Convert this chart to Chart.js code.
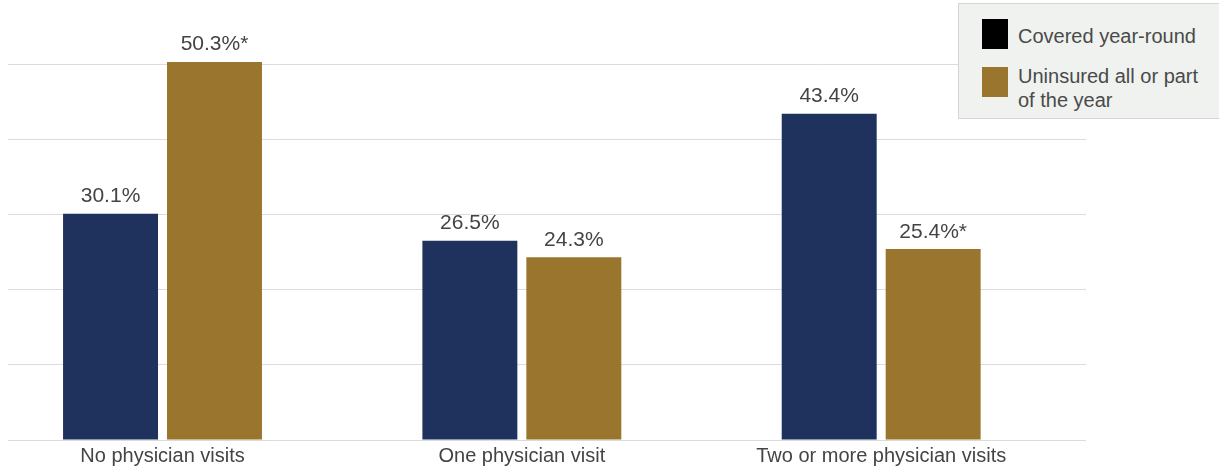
<!DOCTYPE html>
<html>
<head>
<meta charset="utf-8">
<script src="https://cdn.jsdelivr.net/npm/chart.js@4"></script>
<style>
  html, body { margin: 0; padding: 0; background: #fff; }
  #wrap { position: relative; width: 1219px; height: 469px; overflow: hidden; }
  #chart { position: absolute; left: 0; top: 0; }
  #legend {
    position: absolute; left: 958px; top: 3px; width: 262px; height: 116px;
    background: #eff2ef; border: 1px solid #d4d6d4; box-sizing: border-box;
    font: 20px "Liberation Sans", Arial, Helvetica, sans-serif; color: #4a4a4a;
  }
  #legend .item { position: absolute; left: 23px; display: flex; align-items: flex-start; }
  #legend .item:nth-child(1) { top: 15px; }
  #legend .item:nth-child(2) { top: 63px; }
  #legend .box { width: 26px; height: 30px; flex: none; }
  #legend .txt { margin-left: 10px; width: 190px; line-height: 23.5px; }
  #legend .item:nth-child(1) .txt { margin-top: 6px; }
  #legend .item:nth-child(2) .txt { margin-top: -2px; }
</style>
</head>
<body>
<div id="wrap">
  <canvas id="chart" width="1219" height="469"></canvas>
  <div id="legend"></div>
</div>
<script>
const categories = ["No physician visits", "One physician visit", "Two or more physician visits"];
const seriesNames = ["Covered year-round", "Uninsured all or part of the year"];
const covered = [30.1, 26.5, 43.4];
const uninsured = [50.3, 24.3, 25.4];
const coveredMarks = ["", "", ""];
const uninsuredMarks = ["*", "", "*"];
const gridValues = [0, 10, 20, 30, 40, 50];

const barColors = ["#1f325e", "#9a752e"];
const legendColors = ["#000000", "#9a752e"];
const marks = [coveredMarks, uninsuredMarks];
const FONT = '"Liberation Sans", Arial, Helvetica, sans-serif';

const points = vals => vals.map((v, i) => ({ x: i, y: v }));

// value text over each bar, with the asterisk where the difference is flagged
const barLabels = {
  id: "barLabels",
  afterDatasetsDraw(chart) {
    const ctx = chart.ctx;
    ctx.save();
    ctx.font = "21px " + FONT;
    ctx.fillStyle = "#444";
    ctx.textAlign = "center";
    ctx.textBaseline = "alphabetic";
    chart.data.datasets.forEach((ds, d) => {
      chart.getDatasetMeta(d).data.forEach((bar, i) => {
        const txt = ds.data[i].y.toFixed(1) + "%" + marks[d][i];
        ctx.fillText(txt, bar.x, bar.y - 11.5);
      });
    });
    ctx.restore();
  }
};

// boxed legend to the right, filled from the chart's datasets
const boxLegend = {
  id: "boxLegend",
  afterUpdate(chart) {
    const el = document.getElementById("legend");
    el.innerHTML = "";
    chart.data.datasets.forEach((ds, d) => {
      const item = document.createElement("div");
      item.className = "item";
      const box = document.createElement("div");
      box.className = "box";
      box.style.background = legendColors[d];
      const txt = document.createElement("div");
      txt.className = "txt";
      txt.textContent = ds.label;
      item.appendChild(box);
      item.appendChild(txt);
      el.appendChild(item);
    });
  }
};

new Chart(document.getElementById("chart"), {
  type: "bar",
  data: {
    datasets: [
      { label: seriesNames[0], data: points(covered), backgroundColor: barColors[0] },
      { label: seriesNames[1], data: points(uninsured), backgroundColor: barColors[1] }
    ]
  },
  options: {
    responsive: false,
    animation: false,
    categoryPercentage: 0.5786,
    barPercentage: 0.9135,
    layout: { padding: { left: 8, right: 133, top: 4, bottom: -3 } },
    plugins: {
      legend: { display: false },
      tooltip: { enabled: false }
    },
    scales: {
      x: {
        type: "linear",
        offset: false,
        min: -0.43,
        max: 2.57,
        grid: { display: false, drawTicks: false, offset: false },
        border: { display: false },
        afterBuildTicks: axis => { axis.ticks = categories.map((c, i) => ({ value: i })); },
        ticks: {
          padding: 6,
          color: "#444",
          font: { family: FONT, size: 20, lineHeight: 1.0 },
          maxRotation: 0,
          autoSkip: false,
          callback: v => categories[v]
        }
      },
      y: {
        min: 0,
        max: 58,
        afterBuildTicks: axis => { axis.ticks = gridValues.map(v => ({ value: v })); },
        grid: { color: "#dcdcdc", lineWidth: 1, drawTicks: false },
        border: { display: false },
        ticks: { display: false }
      }
    }
  },
  plugins: [barLabels, boxLegend]
});
</script>
</body>
</html>
